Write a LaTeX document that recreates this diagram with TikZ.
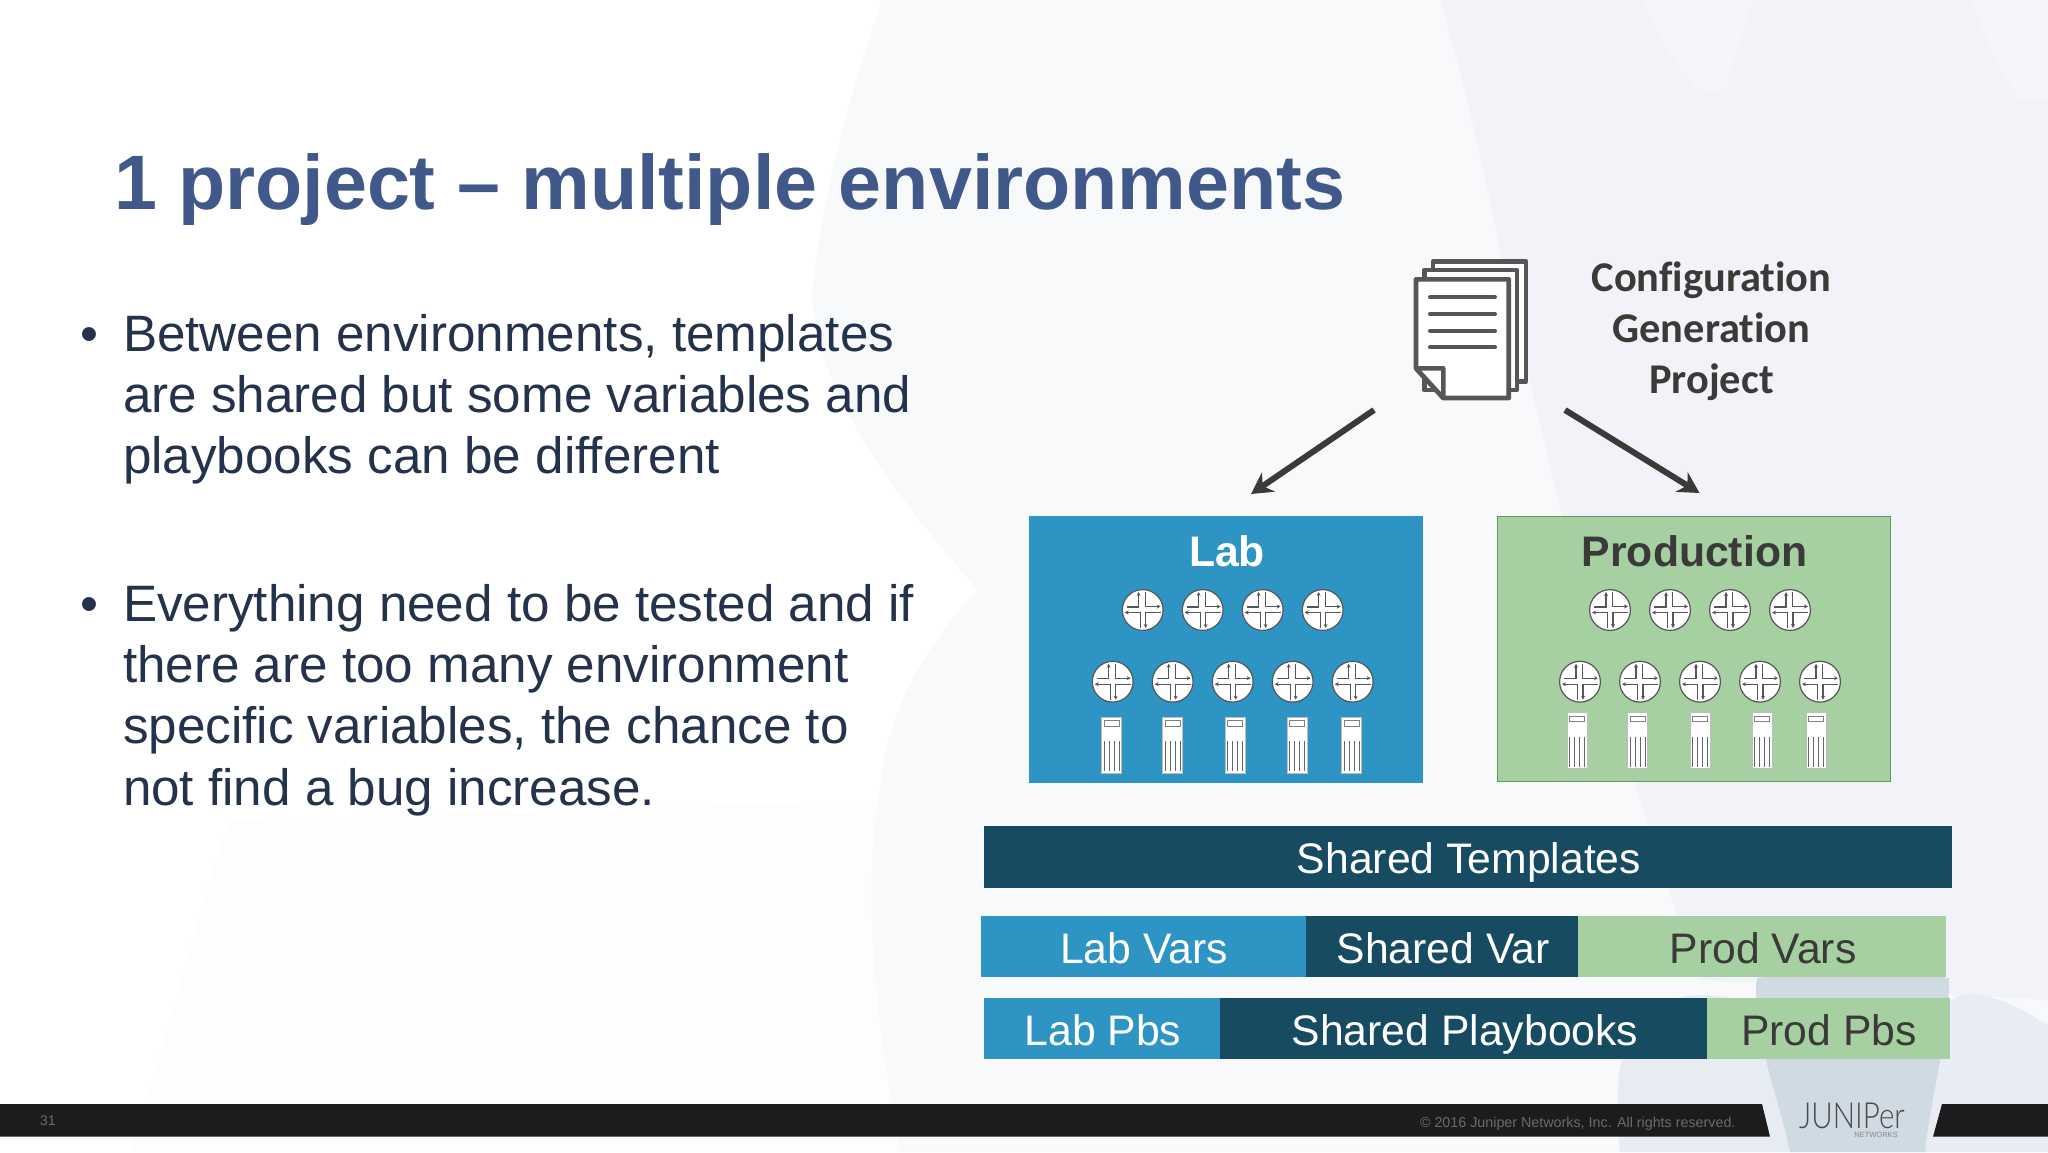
\documentclass[tikz,border=0pt]{standalone}
\usepackage{fontspec}
\setmainfont{Liberation Sans}
\newfontfamily\carl[Ligatures=NoCommon]{Carlito}
\newfontfamily\logofont{Lato Light}
\usetikzlibrary{arrows.meta}
\definecolor{titleblue}{HTML}{40598A}
\definecolor{bodyink}{HTML}{25324B}
\definecolor{labblue}{HTML}{2E94C4}
\definecolor{prodgreen}{HTML}{A6CFA2}
\definecolor{prodedge}{HTML}{5E9A5E}
\definecolor{deepteal}{HTML}{164B62}
\definecolor{inkdark}{HTML}{3A3A38}
\definecolor{iconline}{HTML}{555658}
\definecolor{footbar}{HTML}{1C1C1E}
\definecolor{bgone}{HTML}{F7F9FB}
\definecolor{bgtwo}{HTML}{F1F3F8}
\definecolor{bgstrip}{HTML}{F5F6FA}
\definecolor{bglow}{HTML}{FDFDFE}
\definecolor{petal}{HTML}{E6ECF1}
\definecolor{petalr}{HTML}{E8EDF3}
\definecolor{petalc}{HTML}{CFDAE3}
\tikzset{
  txt/.style={inner sep=0pt,outer sep=0pt,anchor=base west},
  ctxt/.style={inner sep=0pt,outer sep=0pt,anchor=base},
  titletext/.style={txt,text=titleblue,font=\bfseries\fontsize{77.2}{77}\selectfont},
  bodytext/.style={txt,text=bodyink,font=\fontsize{51.2}{61}\selectfont},
  bartext/.style={ctxt,font=\fontsize{42.7}{50}\selectfont},
  envtext/.style={ctxt,font=\bfseries\fontsize{42.7}{50}\selectfont},
  cfgtext/.style={ctxt,text=inkdark,font=\carl\bfseries\fontsize{42.4}{50}\selectfont},
  barbox/.style={inner sep=0pt,outer sep=0pt,anchor=north west,draw=none},
  sheet/.style={draw=iconline,line width=4.6pt,fill=white,line join=round},
  docline/.style={draw=iconline,line width=4pt,line cap=round},
  flow/.style={draw=inkdark,line width=6pt,-{Stealth[length=21pt,width=23pt]}},
  pics/router/.style={code={
    \draw[iconline,line width=1.2pt,fill=white] (0,0) circle (20.4pt);
    \begin{scope}[iconline,line width=1.4pt,>={Stealth[length=4pt,width=4pt]}]
      \draw[->] (-16,-3) -- (-4,-3) -- (-4,-18);
      \draw[->] (2.5,-18) -- (2.5,-3.5) -- (18,-3.5);
      \draw[->] (-2.5,18) -- (-2.5,2.5) -- (-18,2.5);
      \draw[->] (18,2.5) -- (3,2.5) -- (3,18);
    \end{scope}
  }},
  pics/server/.style={code={
    \draw[black!25,line width=.6pt,fill=white] (-10,0) rectangle (10,56);
    \draw[iconline!75,line width=1pt] (-7.5,3.5) rectangle (7.5,9);
    \foreach \bx in {-7.5,-2.5,2.5,7.5}
      \draw[iconline!90,line width=1.1pt] (\bx,24) -- (\bx,54);
  }}
}
\begin{document}
\begin{tikzpicture}[x=1pt,y=-1pt]
\useasboundingbox (0,0) rectangle (2048,1152);
% background
\fill[white] (0,0) rectangle (2048,1152);
\fill[bglow] (130,1152) .. controls (180,1000) and (200,900) .. (230,820) -- (900,800) -- (900,1152) -- cycle;
\fill[bgone] (882,0) .. controls (840,120) and (815,240) .. (812,300)
  .. controls (820,400) and (900,500) .. (978,590)
  .. controls (920,650) and (885,720) .. (880,790)
  .. controls (860,900) and (880,1040) .. (900,1152) -- (2048,1152) -- (2048,0) -- cycle;
\fill[bgtwo] (1440,0) .. controls (1470,100) and (1490,200) .. (1510,300)
  .. controls (1560,500) and (1600,700) .. (1700,980) -- (2048,1000) -- (2048,0) -- cycle;
\fill[bgstrip] (1641,0) .. controls (1660,40) and (1680,70) .. (1700,90) -- (1725,90) -- (1753,0) -- cycle;
\fill[bgstrip] (1972,0) .. controls (1985,40) and (2000,70) .. (2020,100) -- (2048,100) -- (2048,0) -- cycle;
% flower
\fill[petal] (1620,1152) .. controls (1615,1090) and (1615,1040) .. (1650,1010)
  .. controls (1680,990) and (1720,990) .. (1770,1010) -- (1800,1152) -- cycle;
\fill[petalr] (1930,1040) .. controls (1940,1000) and (1960,990) .. (1980,995)
  .. controls (2010,1000) and (2030,1015) .. (2048,1025) -- (2048,1152) -- (1880,1152) -- cycle;
\fill[petalc] (1757,978) .. controls (1820,970) and (1890,970) .. (1949,978)
  .. controls (1950,1030) and (1930,1100) .. (1925,1152) -- (1790,1152)
  .. controls (1780,1100) and (1750,1030) .. (1757,978) -- cycle;
% footer
\fill[footbar] (0,1104) -- (1762,1104) -- (1770,1136.7) -- (0,1136.7) -- cycle;
\fill[footbar] (1942,1104) -- (2048,1104) -- (2048,1136.7) -- (1933,1136.7) -- cycle;
\node[txt,text=black!58,font=\fontsize{14}{16}\selectfont] (pageno) at (40,1125) {31};
\node[txt,text=black!58,font=\fontsize{14.3}{18}\selectfont] (copy) at (1420,1127.5) {© 2016 Juniper Networks, Inc. All rights reserved.};
\node[ctxt,text=iconline!85!black,font=\logofont\fontsize{36}{36}\selectfont,transform shape,xscale=.82] (logo) at (1852,1128) {JUNIPer};
\node[ctxt,text=iconline!70,font=\fontsize{7.5}{9}\selectfont] (logosub) at (1876,1137) {NETWORKS};
% title
\node[titletext] (title) at (114,209.5) {1 project – multiple environments};
% body
\node[txt,text=bodyink,font=\fontsize{51.2}{61}\selectfont] (b1) at (80,351) {•};
\node[bodytext] (l1) at (123,351) {Between environments, templates};
\node[bodytext] (l2) at (123,412.4) {are shared but some variables and};
\node[bodytext] (l3) at (123,473.8) {playbooks can be different};
\node[txt,text=bodyink,font=\fontsize{51.2}{61}\selectfont] (b2) at (80,621) {•};
\node[bodytext] (l4) at (123,621) {Everything need to be tested and if};
\node[bodytext] (l5) at (123,682.4) {there are too many environment};
\node[bodytext] (l6) at (123,743.8) {specific variables, the chance to};
\node[bodytext] (l7) at (123,805.2) {not find a bug increase.};
% document icon
\draw[sheet] (1433,261.7) rectangle (1526,381.7);
\draw[sheet] (1424.3,270) rectangle (1517,390);
\draw[sheet] (1416,279.3) -- (1508.7,279.3) -- (1508.7,398) -- (1443.3,398) -- (1416,368.3) -- cycle;
\draw[sheet,fill=white] (1416,368.3) -- (1443.3,368.3) -- (1443.3,398) -- cycle;
\foreach \ly in {297.3,314,330.7,347.3} \draw[docline] (1430,\ly) -- (1495,\ly);
\coordinate (docL) at (1374,410);
\coordinate (docR) at (1565,410);
\coordinate (labIn) at (1251,494);
\coordinate (prodIn) at (1699.5,493);
\draw[flow] (docL) -- (labIn);
\draw[flow] (docR) -- (prodIn);
\node[cfgtext] (c1) at (1711.5,291) {Configuration};
\node[cfgtext] (c2) at (1711.5,342) {Generation};
\node[cfgtext] (c3) at (1711.5,393) {Project};
% Lab
\node[barbox,fill=labblue,minimum width=394pt,minimum height=267pt] (lab) at (1029.3,516) {};
\node[envtext,text=white] (labt) at (1227,566) {Lab};
\foreach \px in {1142.7,1202.7,1262.7,1322.7} \pic at (\px,610) {router};
\foreach \px in {1112.7,1172.7,1232.7,1292.7,1352.7} \pic at (\px,681.7) {router};
\foreach \px in {1111.7,1172.7,1235,1297.3,1351.7} \pic at (\px,717.3) {server};
% Production
\node[barbox,fill=prodgreen,draw=prodedge,line width=.9pt,minimum width=393pt,minimum height=265pt] (prod) at (1497.5,516.5) {};
\node[envtext,text=inkdark] (prodt) at (1694.5,566) {Production};
\foreach \px in {1610,1670,1730,1790} \pic at (\px,610) {router};
\foreach \px in {1580,1640,1700,1760,1820} \pic at (\px,681.7) {router};
\foreach \px in {1577,1637.7,1700,1762.3,1816} \pic at (\px,712.7) {server};
% bars
\node[barbox,fill=deepteal,minimum width=968pt,minimum height=62pt] (st) at (984,825.7) {};
\node[bartext,text=white] (stt) at (1469,873) {Shared Templates};
\node[barbox,fill=labblue,minimum width=325pt,minimum height=61.3pt] (lv) at (981,915.7) {};
\node[barbox,fill=deepteal,minimum width=272pt,minimum height=61.3pt] (sv) at (1306,915.7) {};
\node[barbox,fill=prodgreen,minimum width=368pt,minimum height=61.3pt] (pv) at (1578,915.7) {};
\node[bartext,text=white] (lvt) at (1144,963) {Lab Vars};
\node[bartext,text=white] (svt) at (1443,963) {Shared Var};
\node[bartext,text=inkdark] (pvt) at (1763,963) {Prod Vars};
\node[barbox,fill=labblue,minimum width=236pt,minimum height=61.6pt] (lp) at (984,997.7) {};
\node[barbox,fill=deepteal,minimum width=487.4pt,minimum height=61.6pt] (sp) at (1220,997.7) {};
\node[barbox,fill=prodgreen,minimum width=242.6pt,minimum height=61.6pt] (pp) at (1707.4,997.7) {};
\node[bartext,text=white] (lpt) at (1103,1045) {Lab Pbs};
\node[bartext,text=white] (spt) at (1465,1045) {Shared Playbooks};
\node[bartext,text=inkdark] (ppt) at (1829,1045) {Prod Pbs};
\end{tikzpicture}
\end{document}
